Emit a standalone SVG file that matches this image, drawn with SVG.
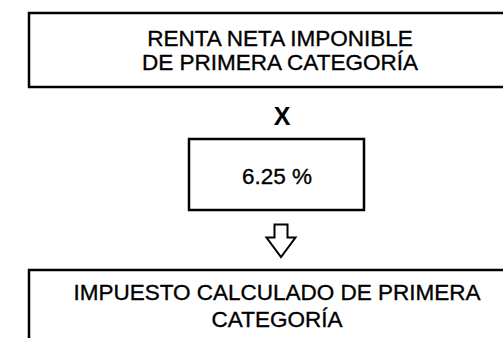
<svg xmlns="http://www.w3.org/2000/svg" width="503" height="338" viewBox="0 0 503 338">
<style>
.box{fill:#fff;stroke:#000;stroke-width:2.5}
.t{font-family:"Liberation Sans",Arial,sans-serif;font-size:22.5px;fill:#000;stroke:#000;stroke-width:0.35;text-anchor:middle}
.x{font-family:"Liberation Sans",Arial,sans-serif;font-size:25px;font-weight:bold;fill:#000;text-anchor:middle}
.arrow{fill:#fff;stroke:#000;stroke-width:2;stroke-linejoin:miter}
</style>
<rect width="503" height="338" fill="#fff"/>
<g id="node-renta">
<rect class="box" x="29" y="13" width="500" height="74"/>
<text class="t" x="280" y="46">RENTA NETA IMPONIBLE</text>
<text class="t" x="280" y="70">DE PRIMERA CATEGORÍA</text>
</g>
<g id="node-x">
<text class="x" x="282" y="125">X</text>
</g>
<g id="node-tasa">
<rect class="box" x="189" y="139" width="175" height="71"/>
<text class="t" x="277" y="184">6.25 %</text>
</g>
<g id="connectors">
<path class="arrow" d="M274.5 224.5 H287.5 V237.5 H295.5 L281 257 L266.5 237.5 H274.5 Z"/>
</g>
<g id="node-impuesto">
<rect class="box" x="29" y="270" width="500" height="100"/>
<text class="t" x="277" y="300">IMPUESTO CALCULADO DE PRIMERA</text>
<text class="t" x="277" y="327">CATEGORÍA</text>
</g>
</svg>
